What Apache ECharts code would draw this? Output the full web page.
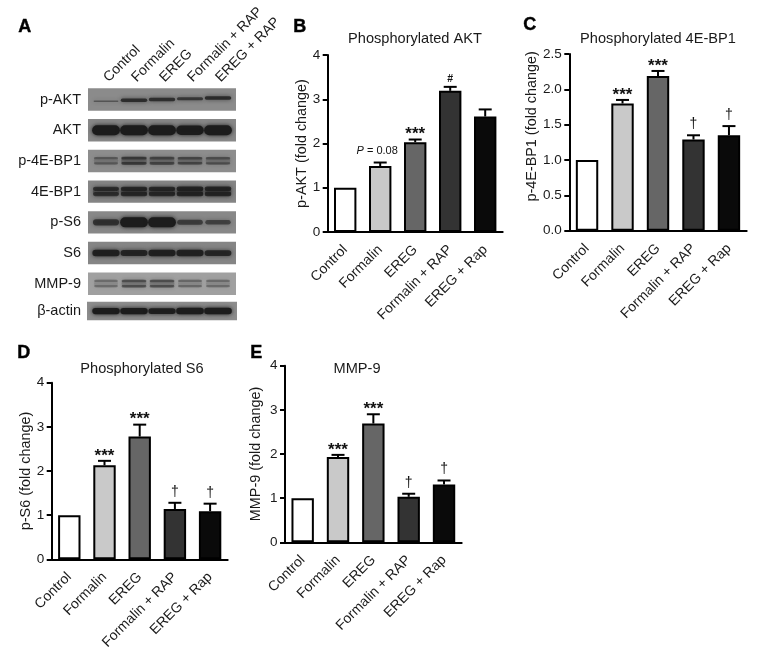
<!DOCTYPE html>
<html><head><meta charset="utf-8">
<style>html,body{margin:0;padding:0;background:#fff}#c{width:771px;height:659px}</style>
<script src="https://cdn.jsdelivr.net/npm/echarts@6/dist/echarts.min.js"></script>
</head><body><div id="c"></div>
<script>
// ---------- data ----------
const categories = ['Control','Formalin','EREG','Formalin + RAP','EREG + Rap'];
const blotLanes = ['Control','Formalin','EREG','Formalin + RAP','EREG + RAP'];
const blotRows = ['p-AKT','AKT','p-4E-BP1','4E-BP1','p-S6','S6','MMP-9','β-actin'];

const aktValues = [1, 1.49, 2.03, 3.19, 2.61];
const aktUpper  = [1, 1.57, 2.09, 3.28, 2.77];
const aktNotes  = ['', 'P = 0.08', '***', '#', ''];

const ebpValues = [1, 1.80, 2.19, 1.29, 1.35];
const ebpUpper  = [1, 1.85, 2.26, 1.35, 1.48];
const ebpNotes  = ['', '***', '***', '†', '†'];

const s6Values = [1, 2.13, 2.78, 1.14, 1.09];
const s6Upper  = [1, 2.23, 3.05, 1.28, 1.26];
const s6Notes  = ['', '***', '***', '†', '†'];

const mmpValues = [1, 1.93, 2.69, 1.03, 1.31];
const mmpUpper  = [1, 1.98, 2.90, 1.10, 1.40];
const mmpNotes  = ['', '***', '***', '†', '†'];

// blot band strengths, lane by lane
const blotPAKT  = [0.30, 0.70, 0.68, 0.60, 0.72];
const blotAKT   = [1.00, 1.00, 1.00, 0.95, 1.00];
const blotP4E   = [0.15, 0.45, 0.35, 0.32, 0.25];
const blot4E    = [0.60, 0.70, 0.70, 0.78, 0.75];
const blotPS6   = [0.62, 1.00, 1.00, 0.50, 0.45];
const blotS6    = [0.88, 0.80, 0.85, 0.85, 0.78];
const blotMMP   = [0.06, 0.30, 0.30, 0.10, 0.08];
const blotActin = [0.95, 0.95, 0.90, 0.98, 0.98];
const blotStrengths = [blotPAKT, blotAKT, blotP4E, blot4E, blotPS6, blotS6, blotMMP, blotActin];

// ---------- styles ----------
const FONT = '"Liberation Sans", Arial, sans-serif';
const TEXT = '#1a1a1a';
const barFills = ['#ffffff','#c9c9c9','#666666','#333333','#0a0a0a'];
const blotLook = [
  {bg:'#8b8b8b', h:5,  dbl:false, tilt:-0.8},
  {bg:'#878787', h:10, dbl:false},
  {bg:'#8d8d8d', h:3.5,dbl:true},
  {bg:'#858585', h:5,  dbl:true},
  {bg:'#888888', h:10, dbl:false},
  {bg:'#858585', h:7.5,dbl:false},
  {bg:'#a0a0a0', h:3.5,dbl:true},
  {bg:'#8c8c8c', h:6.5,dbl:false, shift:-3.4, panelH:18.5, wide:1}
];
const panels = [
  {left:327.7, top:55,    width:175,  height:177,   max:4,   interval:1,   name:'p-AKT (fold change)', gap:19,   vals:aktValues, up:aktUpper, notes:aktNotes, pad:[0,0,0,0]},
  {left:569.3, top:54,    width:177.4,height:176.7, max:2.5, interval:0.5, name:'p-4E-BP1 (fold change)', gap:30.6, vals:ebpValues, up:ebpUpper, notes:ebpNotes, pad:[0,0,0,32]},
  {left:51.7,  top:382.7, width:176,  height:176.6, max:4,   interval:1,   name:'p-S6 (fold change)', gap:18.7, vals:s6Values, up:s6Upper, notes:s6Notes, pad:[0,0,0,0]},
  {left:285,   top:365.7, width:176.7,height:176.6, max:4,   interval:1,   name:'MMP-9 (fold change)', gap:22, vals:mmpValues, up:mmpUpper, notes:mmpNotes, pad:[0,0,0,0]}
];
const titles = [
  {text:'Phosphorylated AKT', x:415, y:39},
  {text:'Phosphorylated 4E-BP1', x:658, y:39},
  {text:'Phosphorylated S6', x:142, y:369},
  {text:'MMP-9', x:357, y:369}
];
const letters = [
  {text:'A', x:18, y:27},{text:'B', x:293, y:27},{text:'C', x:523, y:25},
  {text:'D', x:17, y:353},{text:'E', x:250, y:353}
];

// ---------- options ----------
const grid = [], xAxis = [], yAxis = [], series = [];
const black = {color:'#000', width:2};

panels.forEach((p,i)=>{
  grid.push({left:p.left, top:p.top, width:p.width, height:p.height, containLabel:false});
  xAxis.push({
    type:'category', gridIndex:i, data:categories,
    axisLine:{lineStyle:black, onZero:false},
    axisTick:{alignWithLabel:true, length:5, lineStyle:black},
    axisLabel:{rotate:45, interval:0, margin:15.5, align:'right', verticalAlign:'middle', fontFamily:FONT, fontSize:14, color:TEXT}
  });
  yAxis.push({
    type:'value', gridIndex:i, min:0, max:p.max, interval:p.interval,
    name:p.name, nameLocation:'middle', nameGap:p.gap,
    nameTextStyle:{fontFamily:FONT, fontSize:14.4, color:TEXT, padding:p.pad},
    splitLine:{show:false},
    axisLine:{show:true, lineStyle:black},
    axisTick:{show:true, length:5, lineStyle:black},
    axisLabel:{margin:7.5, fontFamily:FONT, fontSize:13.5, color:TEXT,
      formatter:v=>p.interval<1? v.toFixed(1): String(v)}
  });
  series.push({
    type:'bar', xAxisIndex:i, yAxisIndex:i, barWidth:22.4, silent:true,
    data:p.vals.map((v,k)=>({value:v, itemStyle:{color:barFills[k], borderColor:'#000', borderWidth:2}}))
  });
  series.push({
    type:'custom', xAxisIndex:i, yAxisIndex:i, silent:true, z:5,
    encode:{x:0, y:[1,2]},
    data:p.vals.map((v,k)=>[k, v, p.up[k], p.notes[k]]),
    renderItem:(params,api)=>{
      const k=api.value(0), base=api.coord([k,api.value(1)]), top=api.coord([k,api.value(2)]);
      const note=p.notes[k], kids=[];
      if(top[1]<base[1]-0.01){
        kids.push({type:'line',shape:{x1:base[0],y1:base[1],x2:top[0],y2:top[1]},style:{stroke:'#000',lineWidth:2}});
        kids.push({type:'line',shape:{x1:top[0]-6.5,y1:top[1],x2:top[0]+6.5,y2:top[1]},style:{stroke:'#000',lineWidth:2}});
      }
      if(note){
        let st={fill:'#111',fontFamily:FONT,align:'center',verticalAlign:'middle',x:top[0]};
        if(note==='***'){ st=Object.assign(st,{text:note,fontSize:17,fontWeight:'bold',y:top[1]-5}); }
        else if(note==='†'){ st=Object.assign(st,{text:note,fontSize:14,y:top[1]-11}); }
        else if(note==='#'){ st=Object.assign(st,{text:note,fontSize:10.5,fontWeight:'bold',y:top[1]-8}); }
        else { st=Object.assign(st,{text:'{i|P} = 0.08',fontSize:11,y:top[1]-12,x:top[0]-3,
              rich:{i:{fontStyle:'italic',fontSize:11,fontFamily:FONT}}}); }
        kids.push({type:'text',style:st});
      }
      return {type:'group',children:kids};
    }
  });
});

// Western blot panel, drawn on its own hidden-scale grid
const B = panels.length;
grid.push({left:92, top:84.2, width:140, height:245.6});
xAxis.push({type:'category', gridIndex:B, position:'top', data:blotLanes,
  axisLine:{show:false}, axisTick:{show:false},
  axisLabel:{rotate:-45, interval:0, margin:4.5, align:'left', verticalAlign:'middle', fontFamily:FONT, fontSize:14, color:TEXT}});
yAxis.push({type:'category', gridIndex:B, inverse:true, data:blotRows,
  axisLine:{show:false}, axisTick:{show:false}, axisLabel:{show:false}});

series.push({ // panels and row labels
  type:'custom', xAxisIndex:B, yAxisIndex:B, silent:true, z:1, clip:false,
  encode:{x:0,y:1},
  data:blotRows.map((r,i)=>[0,i]),
  renderItem:(params,api)=>{
    const i=api.value(1), look=blotLook[i], h=look.panelH||22.4, c=api.coord([0,i]);
    const band=api.size([1,1]), cy=c[1]+(look.shift||0);
    const x0=c[0]-band[0]/2-4-(look.wide||0), w=band[0]*5+8+2*(look.wide||0);
    const label=blotRows[i];
    return {type:'group',children:[
      {type:'rect',shape:{x:x0,y:cy-h/2,width:w,height:h},style:{fill:look.bg}},
      {type:'text',style:{text:label,x:81,y:cy,align:'right',verticalAlign:'middle',fontFamily:FONT,fontSize:14.5,fill:TEXT}}
    ]};
  }
});
const blotData=[];
blotStrengths.forEach((row,r)=>row.forEach((s,l)=>blotData.push([l,r,s])));
series.push({ // bands
  type:'custom', xAxisIndex:B, yAxisIndex:B, silent:true, z:2, clip:false,
  encode:{x:0,y:1},
  data:blotData,
  renderItem:(params,api)=>{
    const l=api.value(0), r=api.value(1), s=api.value(2), look=blotLook[r];
    const c=api.coord([l,r]), band=api.size([1,1])[0];
    const cy=c[1]+(look.shift||0)+(look.tilt?look.tilt*(l-2):0);
    const w=band*(0.84+0.15*s), a=Math.min(1,0.22+0.8*s);
    const rgba=x=>'rgba(28,28,28,'+x+')';
    const mk=(yy,hh,al)=>({type:'rect',shape:{x:c[0]-w/2,y:yy-hh/2,width:w,height:hh,r:hh/2},
      style:{fill:rgba(al),shadowBlur:4,shadowColor:rgba(al)}});
    const kids=[];
    if(look.dbl){
      const hh=look.h*(0.6+0.4*s);
      kids.push(mk(cy-0.2,8,a*0.45));
      kids.push(mk(cy-2.8,hh,a));
      kids.push(mk(cy+2.4,hh,a));
    } else kids.push(mk(cy,Math.max(1.5,look.h*s),a));
    return {type:'group',children:kids};
  }
});

const title = titles.map(t=>({text:t.text,left:t.x,top:t.y,textAlign:'center',textVerticalAlign:'middle',padding:0,
  textStyle:{fontFamily:FONT,fontSize:14.6,fontWeight:'normal',color:TEXT}}));
const graphic = letters.map(l=>({type:'text',left:l.x,top:l.y-9,
  style:{text:l.text,fontFamily:FONT,fontSize:18,fontWeight:'bold',fill:'#000',stroke:'#000',lineWidth:0.4}}));

const chart = echarts.init(document.getElementById('c'),null,{renderer:'canvas'});
chart.setOption({animation:false, backgroundColor:'#fff', title, grid, xAxis, yAxis, series, graphic});
</script></body></html>
